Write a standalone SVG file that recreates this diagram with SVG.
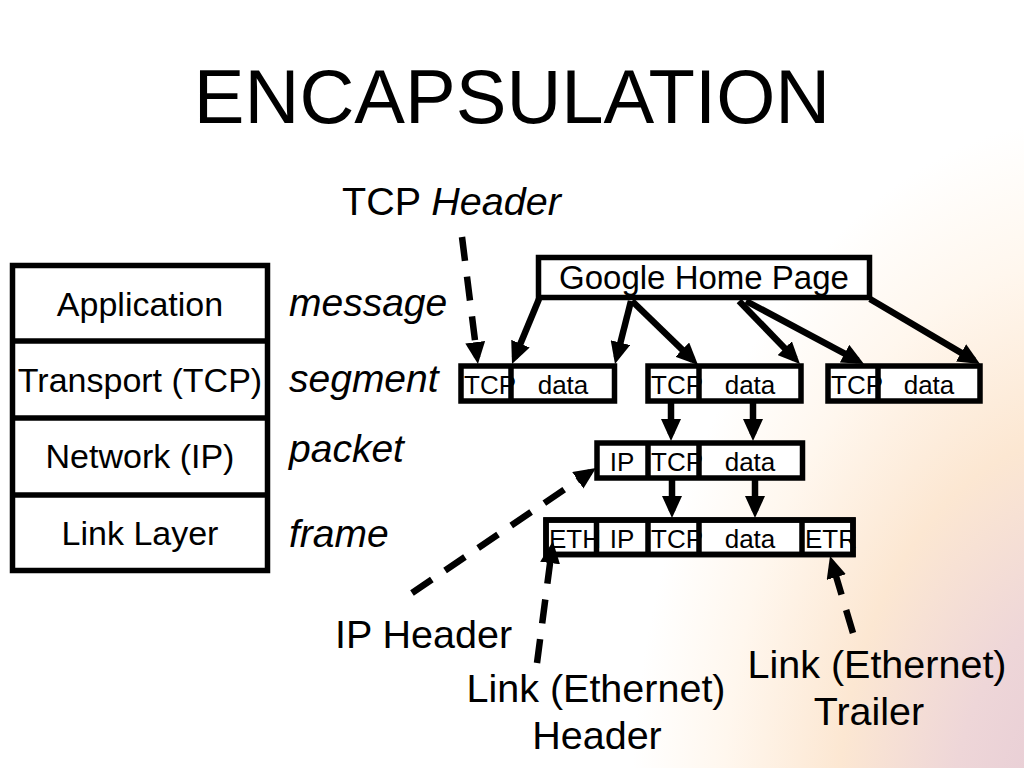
<svg xmlns="http://www.w3.org/2000/svg" width="1024" height="768" viewBox="0 0 1024 768">
<defs>
<radialGradient id="bg" gradientUnits="userSpaceOnUse" cx="1090" cy="820" r="540" gradientTransform="translate(1090 820) scale(0.85 1.3) translate(-1090 -820)">
<stop offset="0" stop-color="#e4c9d4"/>
<stop offset="0.3" stop-color="#eed6d8"/>
<stop offset="0.55" stop-color="#fce7d2"/>
<stop offset="0.8" stop-color="#fff7ee"/>
<stop offset="1" stop-color="#ffffff"/>
</radialGradient>
<marker id="ah" markerUnits="userSpaceOnUse" markerWidth="22" markerHeight="20" viewBox="0 0 22 20" refX="15" refY="10" orient="auto">
<path d="M0,0 L22,10 L0,20 z" fill="#000"/>
</marker>
</defs>
<style>
text{font-family:"Liberation Sans",Arial,sans-serif;fill:#000}
.title{font-size:76px}
.lay{font-size:34px;text-anchor:middle}
.it{font-size:39px;font-style:italic}
.lbl{font-size:39.5px}
.c{text-anchor:middle}
.box{font-size:26px}
.bx{fill:#fff;stroke:#000;stroke-width:5.5}
.dv{stroke:#000;stroke-width:5.5}
.arr{stroke:#000;stroke-width:6.5;fill:none;marker-end:url(#ah)}
.dash{stroke:#000;stroke-width:6.5;fill:none;stroke-dasharray:24 16;marker-end:url(#ah)}
</style>
<rect width="1024" height="768" fill="url(#bg)"/>
<text class="title" x="512" y="123" text-anchor="middle">ENCAPSULATION</text>

<g id="layers">
<rect class="bx" x="12.5" y="265.5" width="255" height="305"/>
<line class="dv" x1="12.5" y1="341" x2="267.5" y2="341"/>
<line class="dv" x1="12.5" y1="418" x2="267.5" y2="418"/>
<line class="dv" x1="12.5" y1="495" x2="267.5" y2="495"/>
<text class="lay" x="140" y="316">Application</text>
<text class="lay" x="140" y="392">Transport (TCP)</text>
<text class="lay" x="140" y="468">Network (IP)</text>
<text class="lay" x="140" y="545">Link Layer</text>
</g>

<g id="pdu-names">
<text class="it" x="289" y="316">message</text>
<text class="it" x="289" y="392">segment</text>
<text class="it" x="289" y="462">packet</text>
<text class="it" x="289" y="547">frame</text>
</g>

<g id="message">
<rect class="bx" x="538.5" y="257.5" width="331" height="40"/>
<text class="c" x="704" y="289" font-size="33">Google Home Page</text>
</g>

<g id="segment1">
<rect class="bx" x="461" y="366" width="153.5" height="35"/>
<text class="box" x="464" y="394">TCP</text>
<text class="box c" x="563" y="394">data</text>
<line class="dv" x1="511" y1="366" x2="511" y2="401"/>
</g>
<g id="segment2">
<rect class="bx" x="648" y="366" width="153" height="35"/>
<text class="box" x="651" y="394">TCP</text>
<text class="box c" x="750" y="394">data</text>
<line class="dv" x1="699" y1="366" x2="699" y2="401"/>
</g>
<g id="segment3">
<rect class="bx" x="828" y="366" width="152" height="35"/>
<text class="box" x="831" y="394">TCP</text>
<text class="box c" x="929" y="394">data</text>
<line class="dv" x1="878" y1="366" x2="878" y2="401"/>
</g>

<g id="packet">
<rect class="bx" x="597" y="443" width="205.5" height="35"/>
<text class="box c" x="622" y="471">IP</text>
<text class="box" x="651" y="471">TCP</text>
<text class="box c" x="750" y="471">data</text>
<line class="dv" x1="648" y1="443" x2="648" y2="478"/>
<line class="dv" x1="699" y1="443" x2="699" y2="478"/>
</g>

<g id="frame">
<rect class="bx" x="546" y="520" width="307" height="34.5"/>
<text class="box" x="549" y="548">ETH</text>
<text class="box c" x="622" y="548">IP</text>
<text class="box" x="651" y="548">TCP</text>
<text class="box c" x="750" y="548">data</text>
<text class="box" x="805" y="548">ETR</text>
<line class="dv" x1="596.5" y1="520" x2="596.5" y2="554.5"/>
<line class="dv" x1="648" y1="520" x2="648" y2="554.5"/>
<line class="dv" x1="699" y1="520" x2="699" y2="554.5"/>
<line class="dv" x1="802" y1="520" x2="802" y2="554.5"/>
<rect x="546" y="520" width="307" height="34.5" fill="none" stroke="#000" stroke-width="5.5"/>
</g>

<g id="annotations">
<text class="lbl" x="342" y="215">TCP <tspan font-style="italic">Header</tspan></text>
<text class="lbl" x="335" y="648">IP Header</text>
<text class="lbl c" x="596" y="702">Link (Ethernet)</text>
<text class="lbl c" x="597" y="749">Header</text>
<text class="lbl c" x="877" y="678">Link (Ethernet)</text>
<text class="lbl c" x="869" y="725">Trailer</text>
</g>

<g id="connectors">
<line class="arr" x1="539" y1="299" x2="514.7" y2="357.5"/>
<line class="arr" x1="631" y1="301" x2="616.7" y2="357.2"/>
<line class="arr" x1="632" y1="301" x2="693" y2="360.1"/>
<line class="arr" x1="739" y1="301" x2="795.1" y2="359"/>
<line class="arr" x1="746" y1="301" x2="857.8" y2="360.7"/>
<line class="arr" x1="870" y1="299" x2="974" y2="360.4"/>
<line class="arr" x1="671" y1="402" x2="671" y2="434"/>
<line class="arr" x1="753" y1="402" x2="753" y2="434"/>
<line class="arr" x1="672" y1="479" x2="672" y2="511"/>
<line class="arr" x1="755" y1="479" x2="755" y2="511"/>
<line class="dash" x1="462" y1="237" x2="477.1" y2="357.1"/>
<line class="dash" x1="412" y1="593" x2="590.2" y2="471.9"/>
<line class="dash" x1="537" y1="663" x2="552" y2="548.1"/>
<line class="dash" x1="853" y1="633" x2="832" y2="562.7"/>
</g>
</svg>
